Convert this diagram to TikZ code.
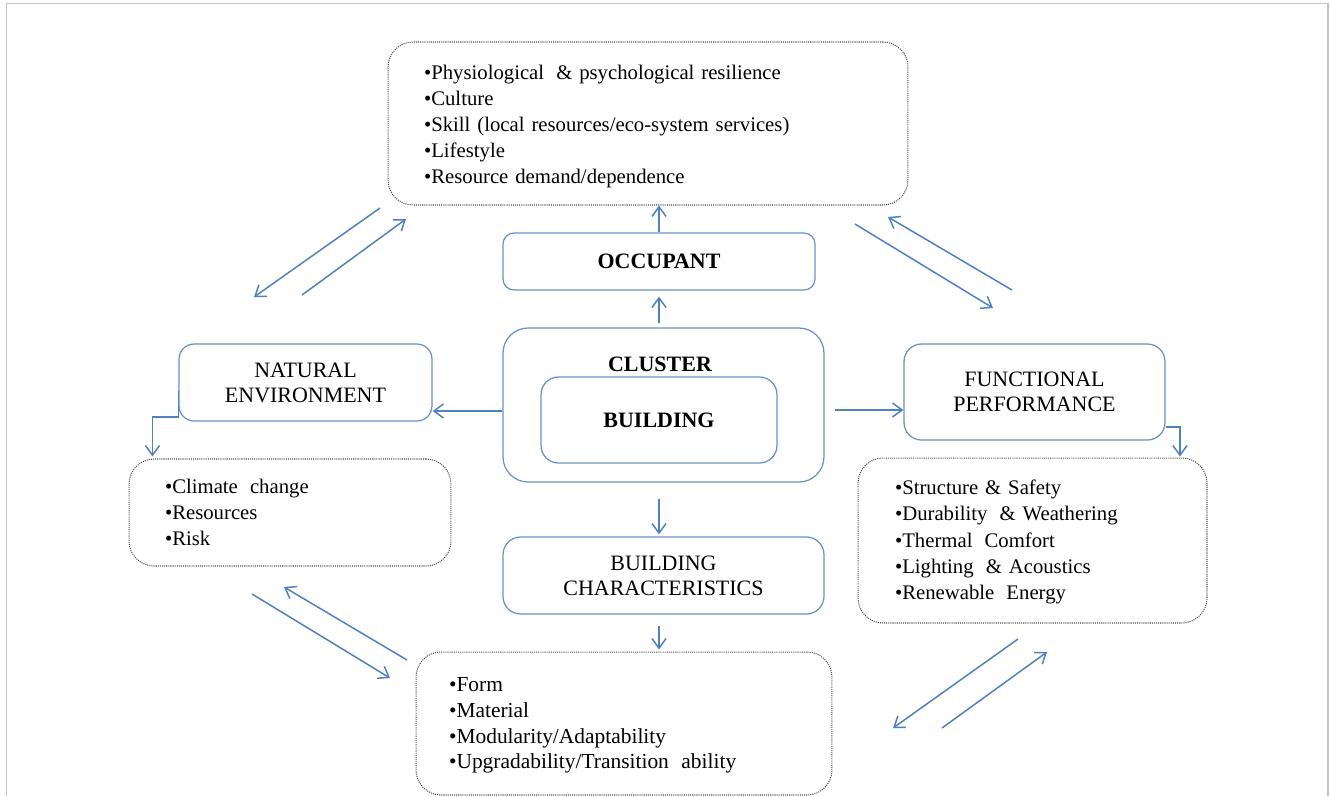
\documentclass[tikz,border=0pt]{standalone}
\usepackage{fontspec}
\setmainfont{Liberation Serif}
\usetikzlibrary{arrows.meta,calc}
\definecolor{lineblue}{RGB}{79,129,189}
\definecolor{boxblue}{RGB}{105,145,200}
\definecolor{dotgray}{RGB}{80,80,80}
\definecolor{framegray}{RGB}{195,195,195}
\newcommand{\xsp}{\hspace{0.25em}}
\begin{document}
\begin{tikzpicture}[x=0.02cm, y=-0.02cm,
  bluebox/.style={draw=boxblue, line width=0.7pt, rounded corners=#1, inner sep=0pt,
    font=\fontsize{12.5pt}{14.2pt}\selectfont, align=center},
  dotbox/.style={draw=dotgray, line width=0.6pt, dash pattern=on 0.6pt off 0.6pt,
    rounded corners=0.5cm, inner sep=0pt},
  bul/.style={inner sep=0pt, align=left, font=\fontsize{11.8pt}{14.9pt}\selectfont},
  lbl/.style={inner sep=0pt, font=\fontsize{12.5pt}{14.2pt}\selectfont\bfseries},
  arr/.style={draw=lineblue, line width=0.85pt, -{Straight Barb[length=5.5pt,width=8pt]}}
]
\useasboundingbox (0,0) rectangle (1330,796);
\draw[framegray, line width=1.1pt] (6.5,796) -- (6.5,3.5) -- (1328,3.5) -- (1328,796);

% top details box
\node[dotbox, minimum width=10.4cm, minimum height=3.26cm] (T) at (648,123.5) {};
\node[bul, text width=8.96cm] (Tt) at ([yshift=-0.06cm]T.center)
  {•Physiological\xsp{} \& psychological resilience\\•Culture\\•Skill (local resources/eco-system services)\\•Lifestyle\\•Resource demand/dependence};

% occupant
\node[bluebox=0.22cm, minimum width=6.24cm, minimum height=1.14cm, font=\fontsize{12.5pt}{14.2pt}\selectfont\bfseries] (O) at (659,261.5) {OCCUPANT};

% cluster and building
\node[bluebox=0.5cm, minimum width=6.42cm, minimum height=3.08cm] (C) at (663.5,405) {};
\node[lbl] (CL) at (660,364) {CLUSTER};
\node[bluebox=0.35cm, minimum width=4.72cm, minimum height=1.72cm, font=\fontsize{12.5pt}{14.2pt}\selectfont\bfseries] (B) at (659,420) {BUILDING};

% building characteristics
\node[bluebox=0.35cm, minimum width=6.42cm, minimum height=1.54cm] (BC) at (663.5,575.5) {BUILDING\\CHARACTERISTICS};

% bottom details
\node[dotbox, minimum width=8.32cm, minimum height=2.86cm] (D) at (624,723.5) {};
\node[bul, text width=7.0cm, font=\fontsize{12.2pt}{14.6pt}\selectfont] (Dt) at ([yshift=-0.04cm]D.center)
  {•Form\\•Material\\•Modularity/Adaptability\\•Upgradability/Transition\xsp{} ability};

% natural environment
\node[bluebox=0.3cm, minimum width=5.06cm, minimum height=1.54cm] (NE) at (305.5,382.5) {NATURAL\\ENVIRONMENT};
\node[dotbox, minimum width=6.44cm, minimum height=2.14cm] (NED) at (290,512.5) {};
\node[bul, text width=5.0cm] (NEDt) at (NED.center)
  {•Climate\xsp{} change\\•Resources\\•Risk};

% functional performance
\node[bluebox=0.35cm, minimum width=5.22cm, minimum height=1.92cm] (FP) at (1034.5,392) {FUNCTIONAL\\PERFORMANCE};
\node[dotbox, minimum width=6.98cm, minimum height=3.3cm] (FPD) at (1032.5,540.5) {};
\node[bul, text width=5.5cm] (FPDt) at ([yshift=-0.03cm]FPD.center)
  {•Structure \& Safety\\•Durability\xsp{} \& Weathering\\•Thermal\xsp{} Comfort\\•Lighting\xsp{} \& Acoustics\\•Renewable\xsp{} Energy};

% vertical connectors
\draw[arr] (O.north) -- (O.north |- T.south);
\draw[arr, shorten <=0.08cm, shorten >=0.12cm] (O.south |- C.north) -- (O.south);
\draw[arr, shorten <=0.32cm, shorten >=0.04cm] (O.south |- C.south) -- (O.south |- BC.north);
\draw[arr, shorten <=0.22cm, shorten >=0.04cm] (O.south |- BC.south) -- (O.south |- D.north);

% horizontal connectors
\draw[arr] ([yshift=-0.12cm]C.west) -- ([yshift=-0.12cm]C.west -| NE.east);
\draw[arr, shorten <=0.2cm] ([yshift=-0.1cm]C.east) -- ([yshift=-0.1cm]C.east -| FP.west);

% elbow connectors
\draw[arr] ([yshift=-0.17cm]NE.west) -- ++(0,26) -| ([xshift=0.48cm, yshift=0.04cm]NED.north west);
\draw[arr] ([yshift=-0.7cm]FP.east) -| ([xshift=2.95cm, yshift=0.02cm]FPD.north);

% diagonal arrow pairs
\coordinate (ul1a) at (380,208); \coordinate (ul1b) at (254,297);
\coordinate (ul2a) at (302,295); \coordinate (ul2b) at (406,219);
\coordinate (ur1a) at (855,224); \coordinate (ur1b) at (993,308);
\coordinate (ur2a) at (1012,290); \coordinate (ur2b) at (888,217);
\coordinate (ll1a) at (252,594); \coordinate (ll1b) at (390,678);
\coordinate (ll2a) at (407,660); \coordinate (ll2b) at (284,587);
\coordinate (lr1a) at (1018,639); \coordinate (lr1b) at (893,728);
\coordinate (lr2a) at (942,728); \coordinate (lr2b) at (1047,652);
\foreach \p in {ul1,ul2,ur1,ur2,ll1,ll2,lr1,lr2}
  \draw[arr] (\p a) -- (\p b);
\end{tikzpicture}
\end{document}
